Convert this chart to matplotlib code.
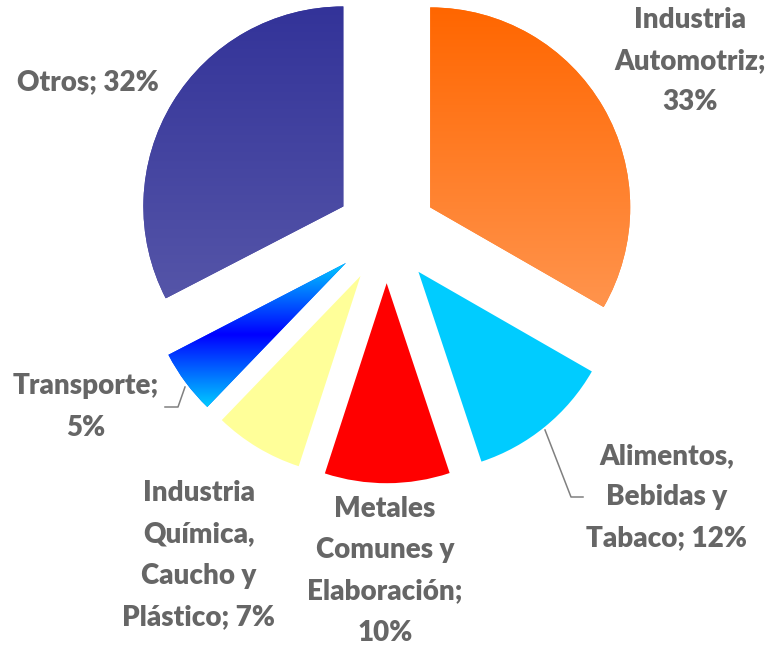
import numpy as np
import matplotlib
matplotlib.use("Agg")
import matplotlib.pyplot as plt
from matplotlib.colors import LinearSegmentedColormap

categories = ["Industria\nAutomotriz", "Alimentos,\nBebidas y\nTabaco", "Metales\nComunes y\nElaboración",
              "Industria\nQuímica,\nCaucho y\nPlástico", "Transporte", "Otros"]
values = [33.3, 11.6, 10.1, 7.2, 5.2, 32.6]
label_texts = ["Industria\nAutomotriz;\n33%", "Alimentos,\nBebidas y\nTabaco; 12%",
               "Metales\nComunes y\nElaboración;\n10%", "Industria\nQuímica,\nCaucho y\nPlástico; 7%",
               "Transporte;\n5%", "Otros; 32%"]
base_colors = ["#FF7A20", "#00CCFF", "#FF0000", "#FFFF99", "#0055FF", "#3F3F9E"]
gradients = {0: ["#FF6600", "#FF944D"],
             4: ["#00CCFF", "#0000FF", "#00CCFF"],
             5: ["#333399", "#5555A8"]}

W, H = 778, 656
fig = plt.figure(figsize=(W / 100, H / 100), dpi=100)
ax = fig.add_axes([0, 0, 1, 1])

cx, cy = 386.5, H - 232.7
R = 200
wedges, _ = ax.pie(values, colors=base_colors, startangle=90, counterclock=False,
                   explode=[0.2525 * R] * len(values), radius=R, center=(cx, cy), frame=True)
ax.set_xlim(0, W)
ax.set_ylim(0, H)
ax.axis("off")
ax.set_aspect("equal")

for i, cols in gradients.items():
    w = wedges[i]
    verts = w.get_path().vertices
    x0, y0 = verts[:, 0].min(), verts[:, 1].min()
    x1, y1 = verts[:, 0].max(), verts[:, 1].max()
    cmap = LinearSegmentedColormap.from_list("g%d" % i, cols)
    grad = np.linspace(0, 1, 256).reshape(-1, 1)
    im = ax.imshow(grad, cmap=cmap, extent=(x0, x1, y0, y1), aspect="auto",
                   origin="upper", zorder=w.get_zorder() + 0.1, interpolation="bilinear")
    im.set_clip_path(w)

ax.set_xlim(0, W)
ax.set_ylim(0, H)

label_pos = [(690, 61), (667, 497), (385, 571), (199, 555), (86, 407), (88, 82)]
fam = ["Lato", "DejaVu Sans"]
for txt, (px, py) in zip(label_texts, label_pos):
    ax.text(px, H - py, txt, ha="center", va="center", fontsize=20, fontweight="heavy",
            color="#666666", family=fam, linespacing=1.72, multialignment="center")

# leader lines
ax.plot([545, 571, 583], [H - 430, H - 497, H - 497], color="#808080", lw=1.1, zorder=5)
ax.plot([185, 178, 165], [H - 387, H - 407, H - 407], color="#808080", lw=1.1, zorder=5)

fig.savefig("out.png", dpi=100)
